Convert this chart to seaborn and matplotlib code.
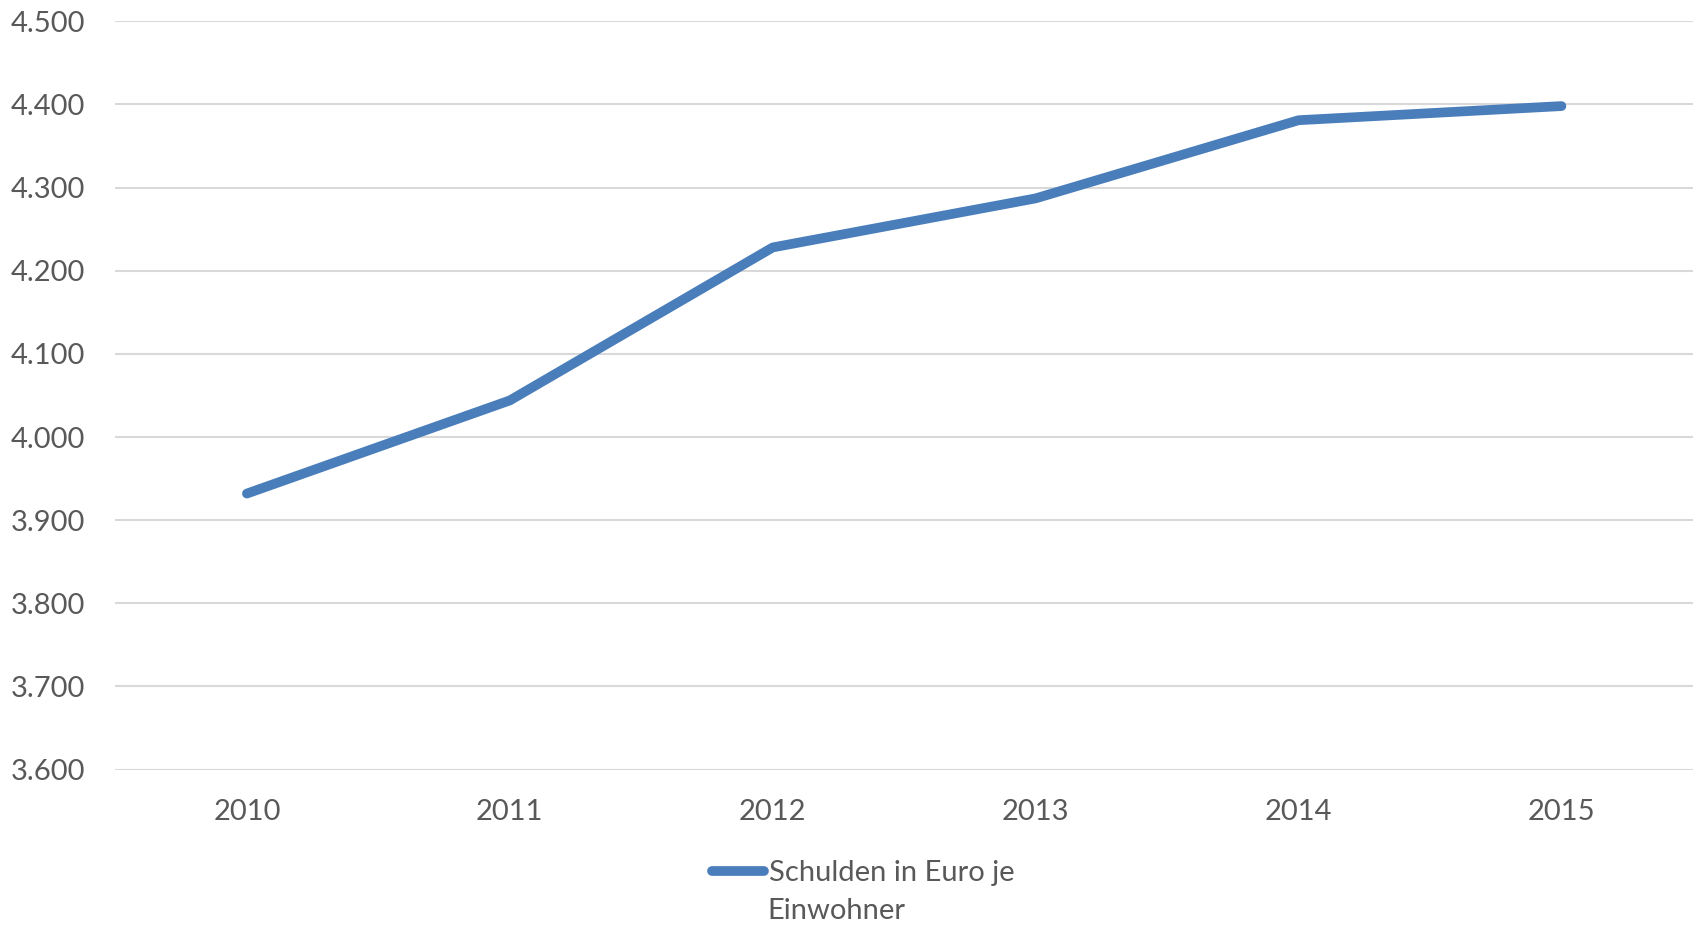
import matplotlib
matplotlib.use("Agg")
import matplotlib.pyplot as plt
from matplotlib.ticker import FuncFormatter
import seaborn as sns
import pandas as pd

# data
years = ["2010", "2011", "2012", "2013", "2014", "2015"]
debt_per_capita = [3932, 4044, 4228, 4287, 4381, 4398]

df = pd.DataFrame({"Jahr": years, "Wert": debt_per_capita})

sns.set_theme(style="white")
plt.rcParams["font.family"] = ["Lato", "DejaVu Sans"]

text_color = "#595959"
line_color = "#4a7ebb"

fig = plt.figure(figsize=(16.98, 9.25), dpi=100)
ax = fig.add_axes([0.068, 0.168, 0.929, 0.809])

sns.lineplot(data=df, x="Jahr", y="Wert", ax=ax, color=line_color,
             linewidth=7, solid_capstyle="round", solid_joinstyle="round",
             label="Schulden in Euro je")

ax.set_ylim(3600, 4500)
ax.set_yticks(range(3600, 4501, 100))
ax.yaxis.set_major_formatter(FuncFormatter(lambda v, p: f"{int(v):,}".replace(",", ".")))
ax.set_xlim(-0.5, len(years) - 0.5)
ax.grid(axis="y", color="#d9d9d9", linewidth=1.5)
ax.set_axisbelow(True)
for s in ax.spines.values():
    s.set_visible(False)
ax.set_xlabel("")
ax.set_ylabel("")
ax.tick_params(axis="both", length=0, labelsize=21, labelcolor=text_color)
ax.tick_params(axis="y", pad=22)
ax.tick_params(axis="x", pad=21)

# legend: handle + first line, second line of the wrapped label as text
leg = ax.legend(loc="center left", bbox_to_anchor=(0.411, 0.056), bbox_transform=fig.transFigure,
                frameon=False, fontsize=21, handlelength=1.75, handletextpad=0.2, borderpad=0)
for t in leg.get_texts():
    t.set_color(text_color)
fig.text(0.452, 0.006, "Einwohner", fontsize=21, color=text_color, ha="left", va="baseline")

fig.savefig("out.png", dpi=100)
